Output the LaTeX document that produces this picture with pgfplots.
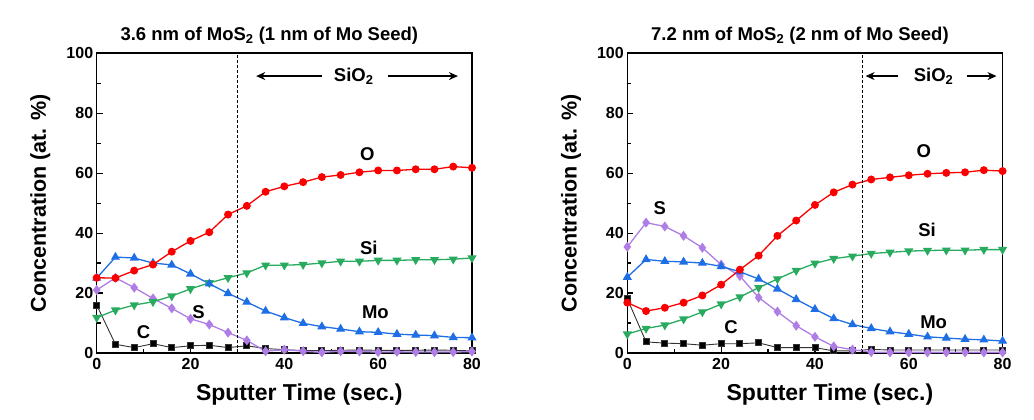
\documentclass[border=0pt]{standalone}
\usepackage{pgfplots}
\pgfplotsset{compat=1.18}
\usepackage{pgfplotstable}
\usepackage{fontspec}
\setmainfont{Liberation Sans}
\usetikzlibrary{arrows.meta}
\definecolor{cO}{RGB}{250,0,0}
\definecolor{cMo}{RGB}{30,110,230}
\definecolor{cSi}{RGB}{40,170,95}
\definecolor{cS}{RGB}{175,125,230}
\definecolor{cC}{RGB}{0,0,0}

\pgfplotstableread{
t O Mo Si S C
0 25.1 25.0 11.8 21.0 16.0
4 25.0 32.0 14.3 25.1 2.9
8 27.5 31.7 16.0 21.8 1.8
12 29.5 30.0 17.1 18.2 3.1
16 33.8 29.4 19.0 14.9 1.8
20 37.4 26.4 21.4 11.4 2.4
24 40.3 23.1 23.4 9.5 2.6
28 46.2 19.9 25.1 6.8 1.8
32 49.1 17.0 26.7 4.2 2.4
36 53.8 14.0 29.3 0.6 1.5
40 55.6 11.8 29.3 1.1 1.1
44 57.0 9.9 29.5 0.6 0.8
48 58.7 8.8 30.0 0.2 0.8
52 59.4 8.0 30.6 0.6 0.9
56 60.3 7.1 30.6 0.5 1.0
60 60.9 6.9 30.9 0.3 0.9
64 60.9 6.3 30.9 0.4 0.9
68 61.3 6.0 31.1 0.3 0.9
72 61.3 5.8 31.1 0.3 1.0
76 62.2 5.2 31.3 0.3 0.9
80 61.8 5.1 31.7 0.5 0.7
}\leftdata

\pgfplotstableread{
t O Mo Si S C
0 16.8 25.3 6.3 35.4 18.1
4 14.0 31.2 8.2 43.5 3.7
8 15.1 30.6 9.3 42.2 3.3
12 16.8 30.4 11.3 39.1 3.1
16 19.2 30.0 13.7 35.1 2.6
20 22.8 28.9 16.3 29.5 3.1
24 27.8 27.1 18.7 25.7 3.1
28 32.5 24.7 21.8 18.5 3.4
32 39.1 21.4 24.7 13.8 1.8
36 44.2 17.9 27.5 9.1 1.8
40 49.4 14.6 29.9 5.4 1.8
44 53.6 11.5 31.5 2.2 0.7
48 56.2 9.5 32.3 1.1 0.7
52 57.9 8.2 33.2 0.3 1.2
56 58.6 7.1 33.6 0.2 1.0
60 59.3 6.3 34.0 0.2 1.0
64 59.8 5.4 34.2 0.2 1.0
68 60.1 5.0 34.3 0.2 1.0
72 60.3 4.6 34.3 0.2 1.0
76 61.0 4.4 34.5 0.2 1.0
80 60.7 4.0 34.5 0.2 1.0
}\rightdata

\tikzset{lab/.style={font=\fontsize{18.5}{18.5}\selectfont\bfseries}}

\pgfplotsset{
  myax/.style={
    scale only axis, width=375.3pt, height=299.7pt,
    anchor=south west,
    xmin=0, xmax=80, ymin=0, ymax=100,
    xtick={0,20,...,80}, ytick={0,20,...,100},
    minor xtick={10,30,50,70}, minor ytick={10,30,50,70,90},
    xtick pos=bottom, ytick pos=left, tick align=inside,
    major tick length=6pt, minor tick length=4pt,
    axis line style={line width=1.6pt},
    every tick/.style={black, line width=1.2pt},
    tick label style={font=\fontsize{16}{16}\selectfont\bfseries},
    xticklabel style={yshift=-2pt},
    /pgf/number format/assume math mode=true,
    xlabel={Sputter Time (sec.)},
    ylabel={Concentration (at. \%)},
    xlabel style={font=\fontsize{23}{23}\selectfont\bfseries, at={(axis description cs:0.54,-0.14)}, anchor=center},
    ylabel style={font=\fontsize{21.5}{21.5}\selectfont\bfseries, at={(axis description cs:-0.15,0.5)}, anchor=center},
    title style={font=\fontsize{18.5}{18.5}\selectfont\bfseries, at={(axis description cs:0.46,1.04)}, anchor=center, yshift=0pt},
    clip=false,
  },
  sO/.style={color=cO, line width=1.3pt, mark=*, mark size=3.3pt, mark options={solid, fill=cO}},
  sMo/.style={color=cMo, line width=1.3pt, mark=triangle*, mark size=4pt, mark options={solid, fill=cMo}},
  sSi/.style={color=cSi, line width=1.3pt, mark=triangle*, mark size=4pt, mark options={solid, fill=cSi, rotate=180}},
  sS/.style={color=cS, line width=1.3pt, mark=diamond*, mark size=4pt, mark options={solid, fill=cS}},
  sC/.style={color=black!80, line width=0.9pt, mark=square*, mark size=3pt, mark options={solid, fill=black}},
}

\begin{document}
\begin{tikzpicture}
\path[use as bounding box] (0,0) rectangle (1034pt,420pt);

\begin{axis}[myax, at={(96.7pt,67pt)}, title={3.6 nm of MoS\textsubscript{2} (1 nm of Mo Seed)}]
\addplot[sC] table[x=t,y=C] {\leftdata};
\addplot[sS] table[x=t,y=S] {\leftdata};
\addplot[sSi] table[x=t,y=Si] {\leftdata};
\addplot[sMo] table[x=t,y=Mo] {\leftdata};
\addplot[sO] table[x=t,y=O] {\leftdata};
\draw[dash pattern=on 3pt off 2pt, line width=0.7pt] (axis cs:30,0) -- (axis cs:30,100);
\draw[-{Stealth[length=9pt,width=8pt]}, line width=1.2pt] (axis cs:48,92.4) -- (axis cs:34,92.4);
\draw[-{Stealth[length=9pt,width=8pt]}, line width=1.2pt] (axis cs:62,92.4) -- (axis cs:77,92.4);
\node[lab] at (axis cs:54.8,92.4) {SiO\textsubscript{2}};
\node[lab] at (axis cs:57.7,66.4) {O};
\node[lab] at (axis cs:58,35) {Si};
\node[lab] at (axis cs:59.4,13.5) {Mo};
\node[lab] at (axis cs:21.7,13.5) {S};
\node[lab] at (axis cs:10,6.8) {C};
\end{axis}

\begin{axis}[myax, at={(627.3pt,67pt)}, title={7.2 nm of MoS\textsubscript{2} (2 nm of Mo Seed)}]
\addplot[sC] table[x=t,y=C] {\rightdata};
\addplot[sS] table[x=t,y=S] {\rightdata};
\addplot[sSi] table[x=t,y=Si] {\rightdata};
\addplot[sMo] table[x=t,y=Mo] {\rightdata};
\addplot[sO] table[x=t,y=O] {\rightdata};
\draw[dash pattern=on 3pt off 2pt, line width=0.7pt] (axis cs:50,0) -- (axis cs:50,100);
\draw[-{Stealth[length=9pt,width=8pt]}, line width=1.2pt] (axis cs:57.8,92.4) -- (axis cs:50.8,92.4);
\draw[-{Stealth[length=9pt,width=8pt]}, line width=1.2pt] (axis cs:72.4,92.4) -- (axis cs:78.7,92.4);
\node[lab] at (axis cs:65.3,92.4) {SiO\textsubscript{2}};
\node[lab] at (axis cs:63.2,67.5) {O};
\node[lab] at (axis cs:63.9,41) {Si};
\node[lab] at (axis cs:65.3,10.2) {Mo};
\node[lab] at (axis cs:6.9,48.2) {S};
\node[lab] at (axis cs:22.1,8.5) {C};
\end{axis}
\end{tikzpicture}
\end{document}
